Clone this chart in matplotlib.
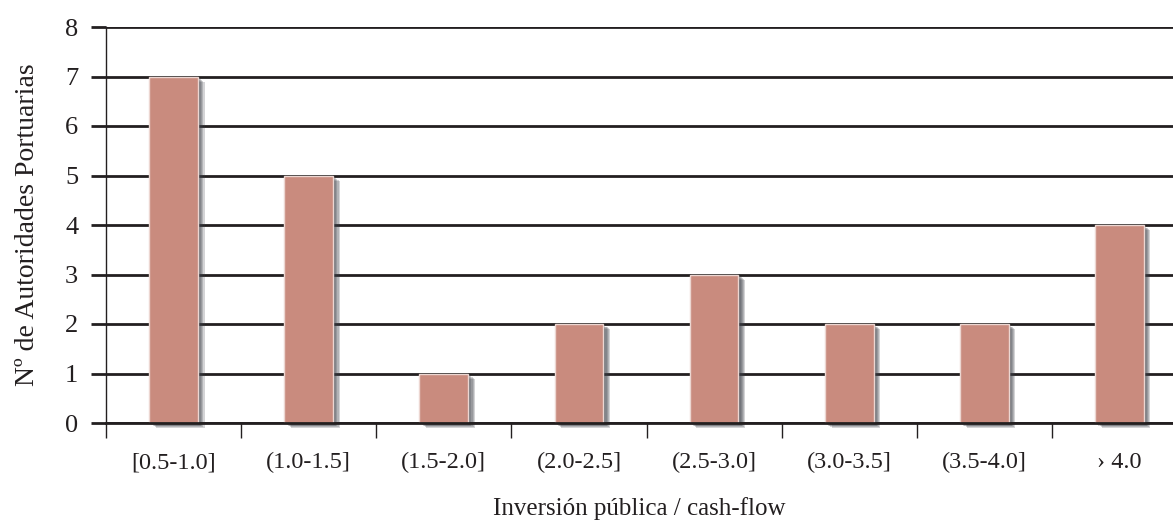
import numpy as np
import matplotlib
matplotlib.use("Agg")
import matplotlib.pyplot as plt
import matplotlib.patheffects as pe
from matplotlib import rcParams

rcParams['font.family'] = 'serif'
rcParams['font.serif'] = ['Liberation Serif', 'DejaVu Serif']

categories = ["[0.5-1.0]", "(1.0-1.5]", "(1.5-2.0]", "(2.0-2.5]",
              "(2.5-3.0]", "(3.0-3.5]", "(3.5-4.0]", "› 4.0"]
counts = [7, 5, 1, 2, 3, 2, 2, 4]
yticks = [0, 1, 2, 3, 4, 5, 6, 7, 8]

fig = plt.figure(figsize=(11.73, 5.25), dpi=100)
ax = fig.add_axes([106/1173, 1 - 423/525, 1 - 106/1173, (423 - 27)/525])

x = np.arange(len(categories))
# soft drop shadow made from a few stacked offsets
shadow = []
for k in range(6, 0, -1):
    shadow.append(pe.SimplePatchShadow(offset=(0.8 * k, -0.6 * k),
                                       shadow_rgbFace='#3c3f48', alpha=0.22))
shadow.append(pe.Normal())
bars = ax.bar(x, counts, width=0.36, color='#c98b7e', edgecolor='#ecd6d1',
              linewidth=1.0, zorder=3, clip_on=False)
for b in bars:
    b.set_path_effects(shadow)

ax.set_ylim(0, 8)
ax.set_xlim(-0.5, 7.5 - 14/135)
ax.set_yticks(yticks)
ax.yaxis.grid(True, color='#231f20', linewidth=2, zorder=1)
ax.set_axisbelow(True)
ax.tick_params(axis='y', direction='out', length=11, width=2, color='#231f20',
               pad=9, labelsize=19, labelcolor='#231f20')

ax.set_xticks(x)
ax.set_xticklabels(categories)
ax.set_xticks(np.arange(-0.5, 7.5, 1.0), minor=True)
ax.tick_params(axis='x', which='major', length=0, pad=21, labelsize=17.5, labelcolor='#231f20')
ax.tick_params(axis='x', which='minor', direction='out', length=11, width=1, color='#231f20')

for s in ['top', 'right']:
    ax.spines[s].set_visible(False)
ax.spines['bottom'].set_linewidth(2)
ax.spines['bottom'].set_color('#231f20')
ax.spines['bottom'].set_zorder(4)
ax.spines['left'].set_linewidth(1)
ax.spines['left'].set_color('#231f20')

ax.set_ylabel("Nº de Autoridades Portuarias", fontsize=20, color='#231f20', labelpad=18)
ax.set_xlabel("Inversión pública / cash-flow", fontsize=18, color='#231f20', labelpad=17)

fig.savefig("out.png", dpi=100)
